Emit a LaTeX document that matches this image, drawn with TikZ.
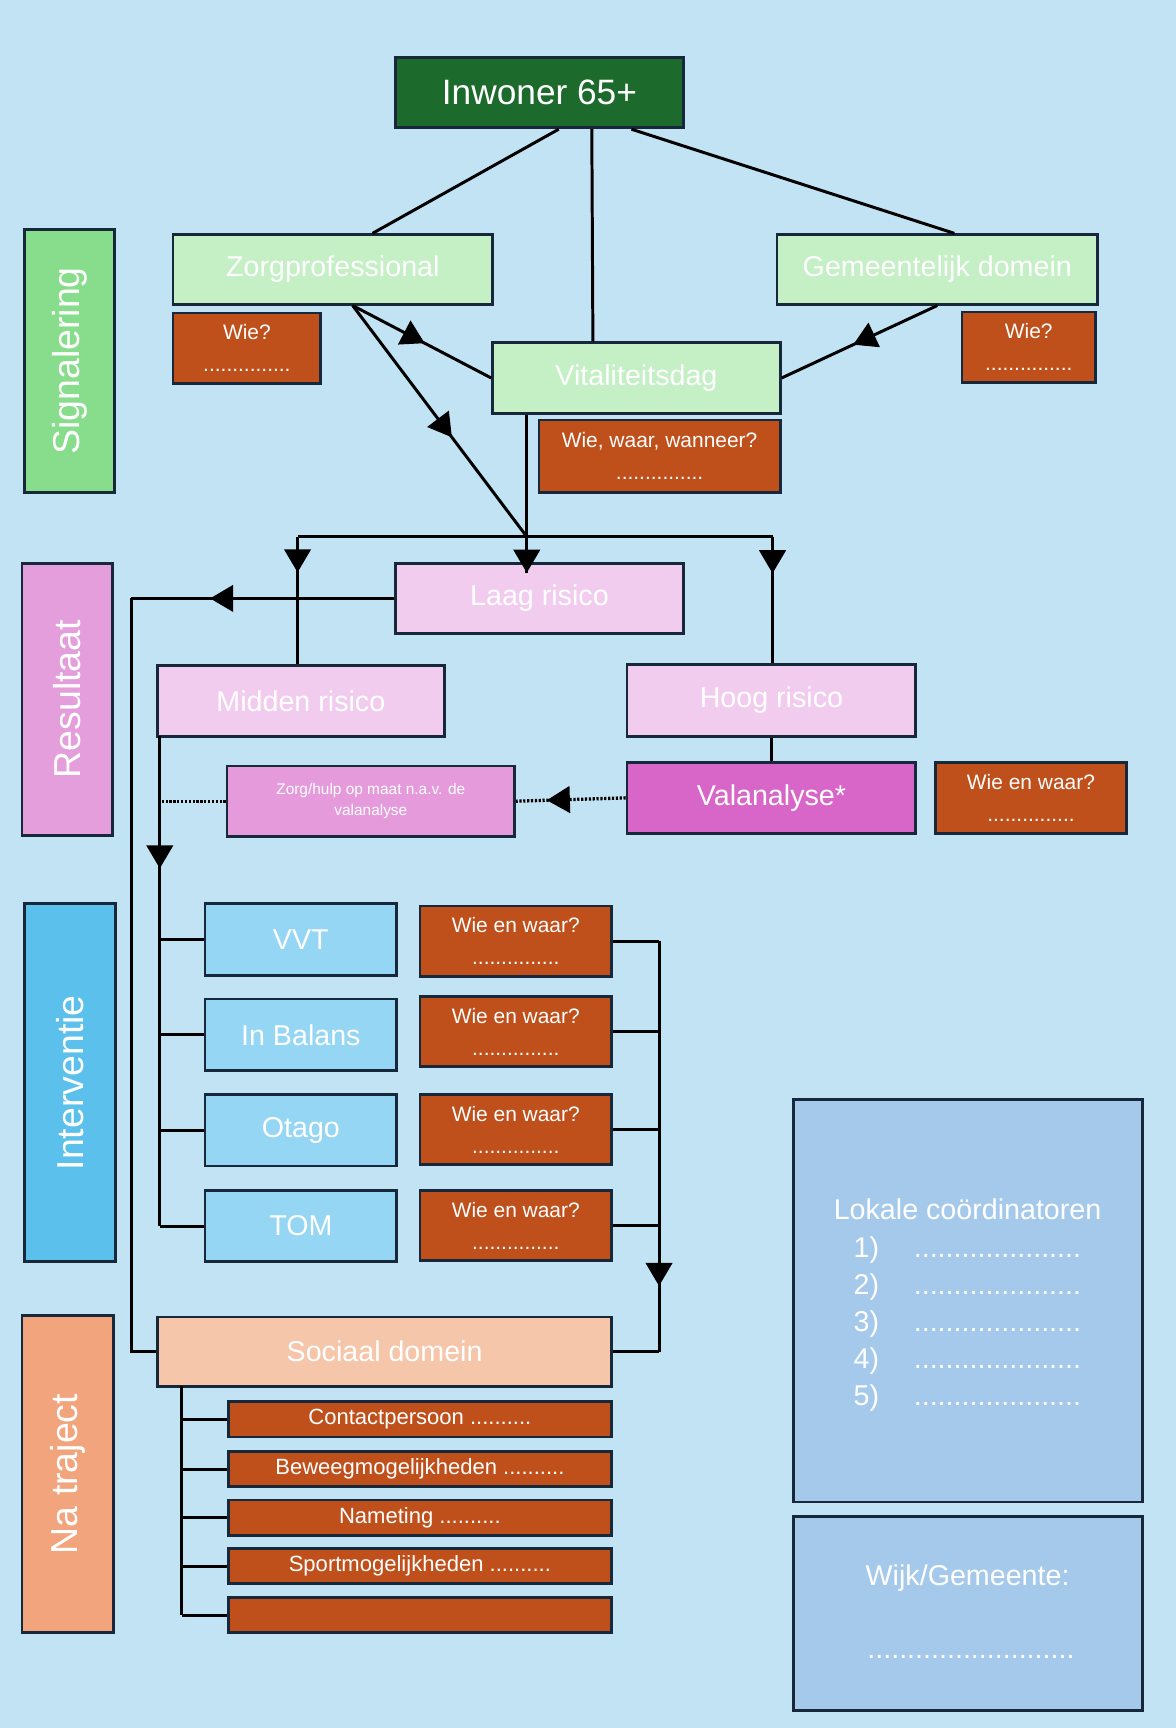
\documentclass[tikz,border=0pt]{standalone}
\usepackage{fontspec}
\setmainfont{Liberation Sans}
\usetikzlibrary{arrows.meta,decorations.markings,calc}
\definecolor{bgc}{HTML}{C2E3F4}
\definecolor{bordc}{HTML}{16283A}
\definecolor{inwc}{HTML}{1C6B2C}
\definecolor{sigc}{HTML}{88DD8C}
\definecolor{palegreen}{HTML}{C5F0C6}
\definecolor{rust}{HTML}{C0501B}
\definecolor{palepink}{HTML}{F2CCEE}
\definecolor{resc}{HTML}{E39EDB}
\definecolor{valc}{HTML}{D866C9}
\definecolor{zhc}{HTML}{E49ADB}
\definecolor{intc}{HTML}{5CC0EC}
\definecolor{intbox}{HTML}{94D6F3}
\definecolor{nac}{HTML}{F2A47C}
\definecolor{socc}{HTML}{F6C6AA}
\definecolor{lokc}{HTML}{A5C9EB}
\tikzset{
  box/.style={draw=bordc, line width=2.5pt, inner sep=0pt, text=white, align=center},
  conn/.style={draw=black, line width=2.7pt},
  dotconn/.style={draw=black, line width=3pt, dash pattern=on 2pt off 1.5pt},
  arrowat/.style={postaction={decorate}, decoration={markings, mark=at position #1 with {\arrow{Triangle[length=21pt,width=24pt]}}}},
  tlab/.style={font=\fontsize{34}{40}\selectfont},
  tbig/.style={font=\fontsize{32}{38}\selectfont},
  tmed/.style={font=\fontsize{26}{31}\selectfont},
  tsmall/.style={font=\fontsize{19}{23}\selectfont},
  tsub/.style={font=\fontsize{20}{24}\selectfont},
  ttiny/.style={font=\fontsize{14}{19}\selectfont},
  labelbox/.style={box, rotate=90, tlab},
  wiebox/.style={box, fill=rust, tsmall, minimum width=174pt, minimum height=64pt},
  intvbox/.style={box, fill=intbox, tmed, minimum width=174pt, minimum height=65pt},
  subbox/.style={box, fill=rust, tsub, minimum width=348pt, minimum height=32pt},
  ltext/.style={text=white, tmed, inner sep=0pt},
}
\begin{document}
\begin{tikzpicture}[x=1pt,y=-1pt]
\path[fill=bgc] (0,0) rectangle (1067,1568);

% ---------- side labels ----------
\node[labelbox, fill=sigc, minimum width=239pt, minimum height=82pt] (sig) at (63,327.5) {Signalering};
\node[labelbox, fill=resc, minimum width=247pt, minimum height=82pt] (res) at (61,634.5) {Resultaat};
\node[labelbox, fill=intc, minimum width=325pt, minimum height=83pt] (int) at (63.5,982.5) {Interventie};
\node[labelbox, fill=nac, minimum width=287pt, minimum height=83pt] (na) at (61.5,1337.5) {Na traject};

% ---------- Signalering ----------
\node[box, fill=inwc, tbig, minimum width=261pt, minimum height=64pt] (inw) at (489.5,84) {Inwoner 65+};
\node[box, fill=palegreen, tmed, minimum width=290pt, minimum height=63pt] (zorg) at (302,244.5) {Zorgprofessional};
\node[box, fill=palegreen, tmed, minimum width=291pt, minimum height=63pt] (gem) at (850.5,244.5) {Gemeentelijk domein};
\node[box, fill=rust, tsmall, minimum width=134pt, minimum height=64pt] (wie1) at (224,316) {Wie?\\[6pt]...............};
\node[box, fill=rust, tsmall, minimum width=121pt, minimum height=64pt] (wie2) at (933.5,315) {Wie?\\[6pt]...............};
\node[box, fill=palegreen, tmed, minimum width=261pt, minimum height=64pt] (vit) at (577.5,343) {Vitaliteitsdag};
\node[box, fill=rust, tsmall, minimum width=219pt, minimum height=66pt] (www) at (598.5,414) {Wie, waar, wanneer?\\[6pt]...............};

% ---------- Resultaat ----------
\node[box, fill=palepink, tmed, minimum width=261pt, minimum height=64pt] (laag) at (489.5,543) {Laag risico};
\node[box, fill=palepink, tmed, minimum width=260pt, minimum height=64pt] (mid) at (273,636) {Midden risico};
\node[box, fill=palepink, tmed, minimum width=262pt, minimum height=65pt] (hoog) at (700,635.5) {Hoog risico};
\node[box, fill=valc, tmed, minimum width=262pt, minimum height=64pt] (val) at (700,724) {Valanalyse*};
\node[box, fill=rust, tsmall, minimum width=173pt, minimum height=64pt] (wiev) at (935.5,724) {Wie en waar?\\[6pt]...............};
\node[box, fill=zhc, ttiny, minimum width=261pt, minimum height=64pt] (zh) at (336.5,727) {Zorg/hulp op maat n.a.v. de\\valanalyse};

% ---------- Interventie ----------
\node[intvbox] (vvt) at (273,852.5) {VVT};
\node[intvbox] (bal) at (273,939) {In Balans};
\node[intvbox] (ota) at (273,1025.5) {Otago};
\node[intvbox] (tom) at (273,1112.5) {TOM};
\node[wiebox] (w1) at (468,854) {Wie en waar?\\[6pt]...............};
\node[wiebox] (w2) at (468,936) {Wie en waar?\\[6pt]...............};
\node[wiebox] (w3) at (468,1025) {Wie en waar?\\[6pt]...............};
\node[wiebox] (w4) at (468,1112) {Wie en waar?\\[6pt]...............};

% ---------- Na traject ----------
\node[box, fill=socc, tmed, minimum width=412pt, minimum height=63pt] (soc) at (349,1226.5) {Sociaal domein};
\node[subbox] (s1) at (381,1288) {Contactpersoon ..........};
\node[subbox] (s2) at (381,1333) {Beweegmogelijkheden ..........};
\node[subbox] (s3) at (381,1377) {Nameting ..........};
\node[subbox] (s4) at (381,1421) {Sportmogelijkheden ..........};
\node[subbox] (s5) at (381,1465.5) {};

% ---------- right info boxes ----------
\node[box, fill=lokc, minimum width=317pt, minimum height=365pt] (lok) at (878.5,1180.5) {};
\node[box, fill=lokc, minimum width=317pt, minimum height=176pt] (wijk) at (878.5,1464) {};
\node[ltext, anchor=base] (lokt) at (878,1107) {Lokale coördinatoren};
\foreach \i/\yy in {1/1141,2/1174.5,3/1208,4/1241.5,5/1275}{
  \node[ltext, anchor=base east] (n\i) at (798,\yy) {\i)};
  \node[ltext, anchor=base west] (d\i) at (829,\yy) {.....................};
}
\node[ltext, anchor=base] (wijkt) at (878,1439) {Wijk/Gemeente:};
\node[ltext, anchor=base] (wijkd) at (881,1505) {..........................};

% ---------- connectors: Signalering ----------
\draw[conn] ([xshift=17.5pt]inw.south) -- ([xshift=36pt]zorg.north);
\draw[conn] ([xshift=47.5pt]inw.south) -- ([xshift=-39.5pt]vit.north);
\draw[conn] ([xshift=83.5pt]inw.south) -- ([xshift=15.5pt]gem.north);
\coordinate (zs) at ([xshift=18pt]zorg.south);
\coordinate (bj) at (478,487);
\coordinate (bl) at (270,487);
\coordinate (br) at (701,487);
\draw[conn, arrowat=0.52] (zs) -- (vit.west);
\draw[conn, arrowat=0.57] (zs) -- (bj);
\draw[conn, arrowat=0.54] (gem.south) -- (vit.east);

% ---------- connectors: Resultaat ----------
\draw[conn] (bl) -- (br);
\draw[conn, arrowat=1] (vit.south -| bj) -- ([yshift=-10pt]laag.north -| bj);
\draw[conn, arrowat=0.28] (bl) -- (mid.north -| bl);
\draw[conn, arrowat=0.29] (br) -- (hoog.north -| br);
\coordinate (lx) at (119,543);
\draw[conn, arrowat=0.70] (laag.west) -- (lx);
\draw[conn] (lx) |- (soc.west);
\draw[conn] (hoog.south) -- (val.north);
\draw[dotconn, arrowat=0.72] (val.west) -- (zh.east);
\coordinate (mx) at (145,668);
\draw[dotconn] (zh.west) -- (zh.west -| mx);

% ---------- connectors: Interventie ----------
\draw[conn, arrowat=0.27] (mx) -- (tom.west -| mx);
\foreach \b in {vvt,bal,ota,tom}{
  \draw[conn] (\b.west -| mx) -- (\b.west);
}
\coordinate (rx) at (598,854);
\foreach \b in {w1,w2,w3,w4}{
  \draw[conn] (\b.east) -- (\b.east -| rx);
}
\draw[conn, arrowat=0.84] (rx) -- (soc.east -| rx);
\draw[conn] (soc.east -| rx) -- (soc.east);

% ---------- connectors: Na traject ----------
\coordinate (sx) at (165,1258);
\draw[conn] (sx) -- (s5.west -| sx);
\foreach \b in {s1,s2,s3,s4,s5}{
  \draw[conn] (\b.west -| sx) -- (\b.west);
}
\end{tikzpicture}
\end{document}
